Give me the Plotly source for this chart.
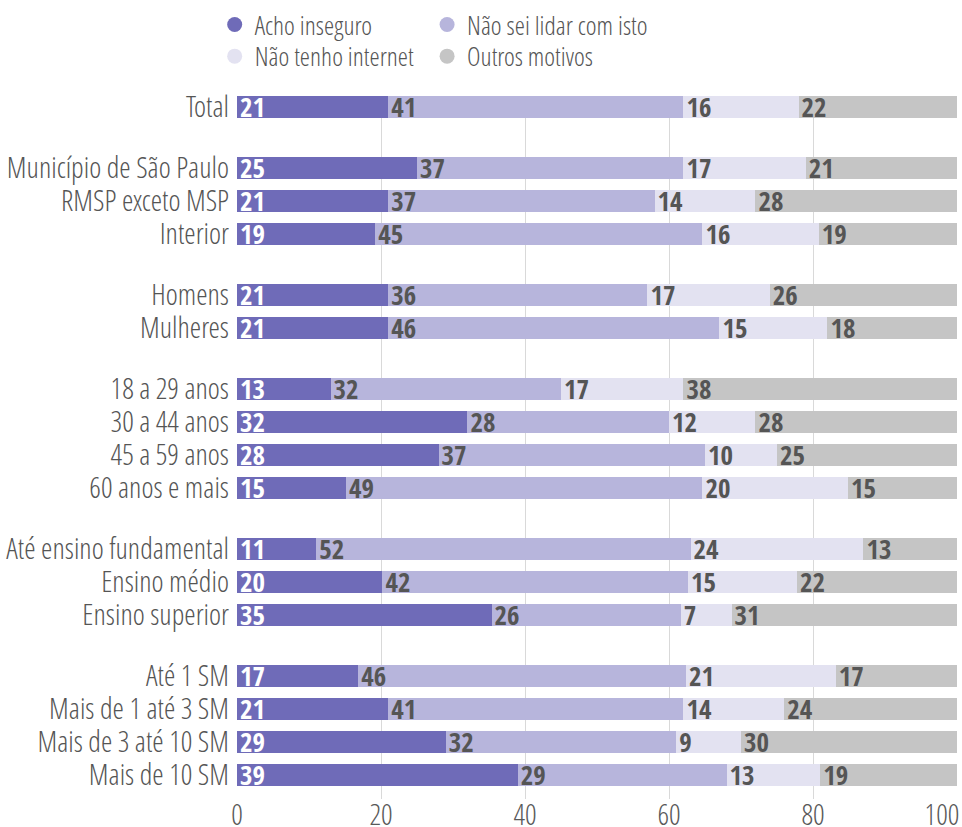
import plotly.graph_objects as go

categories = [
    "Total",
    "Município de São Paulo", "RMSP exceto MSP", "Interior",
    "Homens", "Mulheres",
    "18 a 29 anos", "30 a 44 anos", "45 a 59 anos", "60 anos e mais",
    "Até ensino fundamental", "Ensino médio", "Ensino superior",
    "Até 1 SM", "Mais de 1 até 3 SM", "Mais de 3 até 10 SM", "Mais de 10 SM",
]
group_sizes = [1, 3, 2, 4, 3, 4]

acho_inseguro = [21, 25, 21, 19, 21, 21, 13, 32, 28, 15, 11, 20, 35, 17, 21, 29, 39]
nao_sei_lidar = [41, 37, 37, 45, 36, 46, 32, 28, 37, 49, 52, 42, 26, 46, 41, 32, 29]
nao_tenho_internet = [16, 17, 14, 16, 17, 15, 17, 12, 10, 20, 24, 15, 7, 21, 14, 9, 13]
outros_motivos = [22, 21, 28, 19, 26, 18, 38, 28, 25, 15, 13, 22, 31, 17, 24, 30, 19]

series_names = ["Acho inseguro", "Não sei lidar com isto", "Não tenho internet", "Outros motivos"]
series_values = [acho_inseguro, nao_sei_lidar, nao_tenho_internet, outros_motivos]
colors = ["#6f6bb8", "#b7b5dc", "#e3e2f1", "#c5c5c5"]
text_colors = ["#ffffff", "#555555", "#555555", "#555555"]
x_ticks = [0, 20, 40, 60, 80, 100]

# row positions: one unit per row, extra gap between groups
GAP = 0.85
positions = []
pos = 0.0
for n in group_sizes:
    for k in range(n):
        positions.append(pos)
        pos += 1
    pos += GAP

LIGHT = "Open Sans Condensed Light, Roboto Condensed, sans-serif"
BOLD = "Open Sans Condensed, Roboto Condensed, sans-serif"

fig = go.Figure()
for name, vals, col, tcol in zip(series_names, series_values, colors, text_colors):
    fig.add_trace(go.Bar(
        x=vals, y=positions, orientation="h", name=name,
        marker=dict(color=col, line=dict(width=0)),
        width=0.67,
        text=[str(v) for v in vals],
        textposition="inside", insidetextanchor="start",
        textangle=0, constraintext="none",
        insidetextfont=dict(family=BOLD, size=27, color=tcol),
        showlegend=False, hoverinfo="skip",
    ))

# legend entries with circle markers: one legend box per entry (2 x 2 grid)
legend_ids = ["legend", "legend2", "legend3", "legend4"]
for name, col, lid in zip(series_names, colors, legend_ids):
    fig.add_trace(go.Scatter(
        x=[None], y=[None], mode="markers", name=name,
        marker=dict(color=col, size=15, symbol="circle"),
        legend=lid,
    ))

legend_common = dict(
    orientation="v", yanchor="top", xanchor="left", traceorder="normal",
    font=dict(family=LIGHT, size=26, color="#555555"),
    bgcolor="rgba(0,0,0,0)", itemwidth=30, tracegroupgap=0,
)
col_x = [-0.031, 0.264]
row_y = [1.135, 1.09]

# last tick label is nudged left (as in the reference) with trailing no-break spaces
tick_text = [str(t) for t in x_ticks]
tick_text[-1] = tick_text[-1] + "\u00a0" * 4

fig.update_layout(
    barmode="stack", barnorm="percent",
    width=962, height=827,
    margin=dict(l=237, r=5, t=96, b=28, autoexpand=False),
    plot_bgcolor="white", paper_bgcolor="white",
    font=dict(family=LIGHT, color="#555555"),
    legend=dict(x=col_x[0], y=row_y[0], **legend_common),
    legend2=dict(x=col_x[1], y=row_y[0], **legend_common),
    legend3=dict(x=col_x[0], y=row_y[1], **legend_common),
    legend4=dict(x=col_x[1], y=row_y[1], **legend_common),
    xaxis=dict(
        range=[0, 100], tickvals=x_ticks, ticktext=tick_text,
        showgrid=True, gridcolor="#d9d9d9", gridwidth=1,
        zeroline=False, showline=False, ticks="",
        automargin=False, ticklabeloverflow="allow", ticklabelstandoff=-4,
        tickfont=dict(family=LIGHT, size=29, color="#595959"),
    ),
    yaxis=dict(
        range=[positions[-1] + 0.73, -0.33],
        tickvals=positions, ticktext=categories,
        showgrid=False, zeroline=False, showline=False, ticks="",
        automargin=False, ticklabelstandoff=7,
        tickfont=dict(family=LIGHT, size=29, color="#555555"),
    ),
)

fig.write_html("out.html", config={"displayModeBar": False},
               post_script="document.body.style.margin='0px';")
